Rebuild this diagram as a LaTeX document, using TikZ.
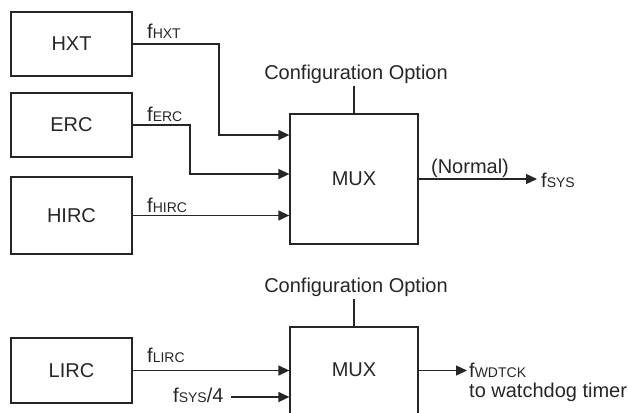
\documentclass[tikz,border=0pt]{standalone}
\usepackage{fontspec}
\setmainfont{Liberation Sans}
\usetikzlibrary{arrows.meta}
\newcommand\subsz[1]{{\fontsize{14bp}{14bp}\selectfont #1}}
\begin{document}
\begin{tikzpicture}[x=1bp,y=-1bp,
 every node/.style={font=\fontsize{20bp}{24bp}\selectfont, text=black!85},
 blk/.style={draw=black!85, line width=1.3bp, minimum width=121bp, inner sep=0},
 mux/.style={draw=black!85, line width=1.3bp, minimum width=128bp, minimum height=130bp, inner sep=0},
 wire/.style={draw=black!85, line width=1.3bp},
 arr/.style={wire, -{Triangle[length=11bp,width=10bp]}},
 lbl/.style={anchor=base west, inner sep=0}]
\clip (0,0) rectangle (628,412);
% source blocks
\node[blk, minimum height=64bp] (hxt) at (71.5,44) {HXT};
\node[blk, minimum height=64bp] (erc) at (71.5,125) {ERC};
\node[blk, minimum height=77bp] (hirc) at (71.5,215.5) {HIRC};
\node[blk, minimum height=65bp] (lirc) at (71.5,370.5) {LIRC};
% multiplexers
\node[mux] (mux1) at (354,179) {MUX};
\node[mux] (mux2) at (354,392) {};
\node (mux2t) at (354,370) {MUX};
% configuration options
\node[anchor=base, inner sep=3bp] (cfg1) at (356,79) {Configuration Option};
\node[anchor=base, inner sep=3bp] (cfg2) at (356,292) {Configuration Option};
\draw[wire] (cfg1.south -| mux1.north) -- (mux1.north);
\draw[wire] (cfg2.south -| mux2.north) -- (mux2.north);
% signal labels
\node[lbl] (lhxt) at (147,38) {f\subsz{HXT}};
\node[lbl] (lerc) at (147,121) {f\subsz{ERC}};
\node[lbl] (lhirc) at (147,212) {f\subsz{HIRC}};
\node[lbl] (llirc) at (147,362) {f\subsz{LIRC}};
\node[lbl] (fs4) at (173,402) {f\subsz{SYS}/4};
\node[anchor=base, inner sep=0] (normal) at (470,173) {(Normal)};
\node[lbl] (fsys) at (541,187) {f\subsz{SYS}};
\node[lbl] (fwdt) at (469,377) {f\subsz{WDTCK}};
\node[lbl] (wdt) at (469,397) {to watchdog timer};
% bend / end points
\coordinate (b1) at (219,135);
\coordinate (b2) at (190,174);
\coordinate (s4) at (231,397);
\coordinate (o1) at (537,179);
\coordinate (o2) at (467,370.5);
% connectors
\draw[arr] (hxt.east) -| (b1) -- (b1 -| mux1.west);
\draw[arr] (erc.east) -| (b2) -- (b2 -| mux1.west);
\draw[arr] (hirc.east) -- (hirc.east -| mux1.west);
\draw[arr] (mux1.east) -- (o1);
\draw[arr] (lirc.east) -- (lirc.east -| mux2.west);
\draw[arr] (s4) -- (s4 -| mux2.west);
\draw[arr] (lirc.east -| mux2.east) -- (o2);
\end{tikzpicture}
\end{document}
